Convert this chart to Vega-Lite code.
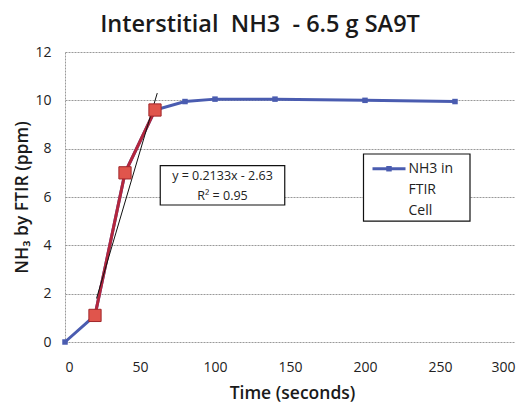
{
  "$schema": "https://vega.github.io/schema/vega-lite/v6.json",
  "width": 450,
  "height": 290,
  "autosize": "none",
  "padding": {"left": 65, "top": 52, "right": 16, "bottom": 64},
  "background": "white",
  "config": {
    "font": "Open Sans",
    "view": {"stroke": null}
  },
  "title": {
    "text": "Interstitial\u00a0 NH3\u00a0 - 6.5 g SA9T",
    "fontSize": 23.5,
    "fontWeight": 600,
    "color": "#1a1a1a",
    "anchor": "middle",
    "dx": -30,
    "offset": 9
  },
  "datasets": {
    "series": [
      {"t": 0, "v": 0},
      {"t": 20, "v": 1.1},
      {"t": 40, "v": 7.0},
      {"t": 60, "v": 9.6},
      {"t": 80, "v": 9.95},
      {"t": 100, "v": 10.05},
      {"t": 140, "v": 10.05},
      {"t": 200, "v": 10.0},
      {"t": 260, "v": 9.95}
    ],
    "fit": [
      {"t": 20, "v": 1.1},
      {"t": 40, "v": 7.0},
      {"t": 60, "v": 9.6}
    ],
    "trend": [
      {"t": 21, "v": 1.8},
      {"t": 61.5, "v": 10.3}
    ],
    "eqbox": [{"x1": 63.5, "x2": 146.5, "y1": 5.67, "y2": 7.3}],
    "eqtext": [
      {"x": 105, "y": 6.85, "label": "y = 0.2133x - 2.63"},
      {"x": 105, "y": 6.05, "label": "R² = 0.95"}
    ],
    "legbox": [{"x1": 199, "x2": 270, "y1": 5.0, "y2": 7.78}],
    "legline": [{"t": 205, "v": 7.17}, {"t": 227, "v": 7.17}],
    "legpt": [{"t": 216, "v": 7.17}],
    "legtext": [
      {"x": 229, "y": 7.17, "label": "NH3 in"},
      {"x": 229, "y": 6.3, "label": "FTIR"},
      {"x": 229, "y": 5.43, "label": "Cell"}
    ]
  },
  "layer": [
    {
      "data": {"name": "series"},
      "mark": {"type": "line", "color": "#4a5cb0", "strokeWidth": 3},
      "encoding": {
        "x": {
          "field": "t", "type": "quantitative",
          "scale": {"domain": [0, 300], "nice": false},
          "axis": {
            "values": [0, 50, 100, 150, 200, 250, 300],
            "grid": false, "ticks": false, "domain": false,
            "labelFontSize": 14, "labelColor": "#222", "labelPadding": 18,
            "title": "Time (seconds)", "titleFontSize": 17.5, "titleFontWeight": 600,
            "titleColor": "#1a1a1a", "titleY": 51, "titleBaseline": "middle", "titleX": 227
          }
        },
        "y": {
          "field": "v", "type": "quantitative",
          "scale": {"domain": [0, 12], "nice": false},
          "axis": {
            "values": [0, 2, 4, 6, 8, 10, 12],
            "grid": true, "gridDash": [2, 1], "gridColor": "#999", "gridWidth": 1,
            "ticks": false, "domain": true, "domainDash": [2, 1], "domainColor": "#999",
            "labelFontSize": 14, "labelColor": "#222", "labelPadding": 14,
            "title": "NH₃ by FTIR (ppm)", "titleFontSize": 17.5, "titleFontWeight": 600,
            "titleColor": "#1a1a1a", "titleX": -43, "titleBaseline": "middle"
          }
        }
      }
    },
    {
      "data": {"name": "series"},
      "mark": {"type": "square", "color": "#4a5cb0", "size": 30, "opacity": 1},
      "encoding": {
        "x": {"field": "t", "type": "quantitative"},
        "y": {"field": "v", "type": "quantitative"}
      }
    },
    {
      "data": {"name": "fit"},
      "mark": {"type": "line", "color": "#b3263d", "strokeWidth": 3},
      "encoding": {
        "x": {"field": "t", "type": "quantitative"},
        "y": {"field": "v", "type": "quantitative"}
      }
    },
    {
      "data": {"name": "trend"},
      "mark": {"type": "line", "color": "#111", "strokeWidth": 1},
      "encoding": {
        "x": {"field": "t", "type": "quantitative"},
        "y": {"field": "v", "type": "quantitative"}
      }
    },
    {
      "data": {"name": "fit"},
      "mark": {"type": "square", "fill": "#e0554c", "stroke": "#a0262a", "strokeWidth": 1, "size": 150, "opacity": 1},
      "encoding": {
        "x": {"field": "t", "type": "quantitative"},
        "y": {"field": "v", "type": "quantitative"}
      }
    },
    {
      "data": {"name": "eqbox"},
      "mark": {"type": "rect", "fill": "white", "stroke": "#111", "strokeWidth": 1.2},
      "encoding": {
        "x": {"field": "x1", "type": "quantitative"},
        "x2": {"field": "x2"},
        "y": {"field": "y1", "type": "quantitative"},
        "y2": {"field": "y2"}
      }
    },
    {
      "data": {"name": "eqtext"},
      "mark": {"type": "text", "fontSize": 12.5, "color": "#222", "align": "center", "baseline": "middle"},
      "encoding": {
        "x": {"field": "x", "type": "quantitative"},
        "y": {"field": "y", "type": "quantitative"},
        "text": {"field": "label"}
      }
    },
    {
      "data": {"name": "legbox"},
      "mark": {"type": "rect", "fill": "white", "stroke": "#111", "strokeWidth": 1.2},
      "encoding": {
        "x": {"field": "x1", "type": "quantitative"},
        "x2": {"field": "x2"},
        "y": {"field": "y1", "type": "quantitative"},
        "y2": {"field": "y2"}
      }
    },
    {
      "data": {"name": "legline"},
      "mark": {"type": "line", "color": "#4a5cb0", "strokeWidth": 3},
      "encoding": {
        "x": {"field": "t", "type": "quantitative"},
        "y": {"field": "v", "type": "quantitative"}
      }
    },
    {
      "data": {"name": "legpt"},
      "mark": {"type": "square", "color": "#4a5cb0", "size": 30, "opacity": 1},
      "encoding": {
        "x": {"field": "t", "type": "quantitative"},
        "y": {"field": "v", "type": "quantitative"}
      }
    },
    {
      "data": {"name": "legtext"},
      "mark": {"type": "text", "fontSize": 14, "color": "#222", "align": "left", "baseline": "middle"},
      "encoding": {
        "x": {"field": "x", "type": "quantitative"},
        "y": {"field": "y", "type": "quantitative"},
        "text": {"field": "label"}
      }
    }
  ]
}
